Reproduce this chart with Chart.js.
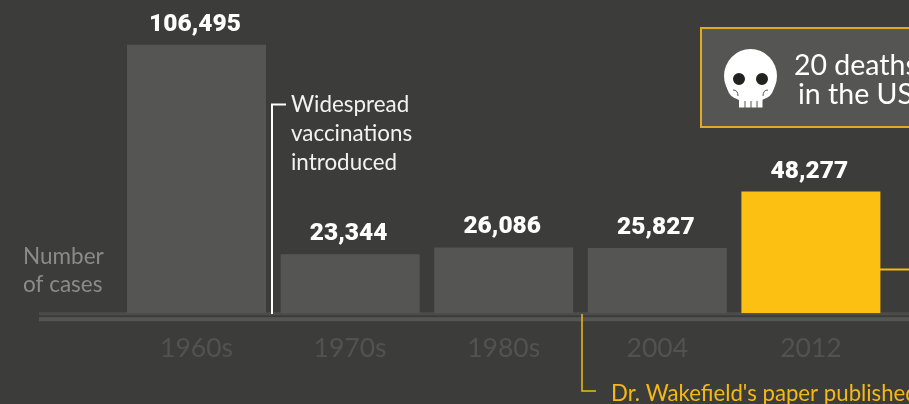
<!DOCTYPE html>
<html><head><meta charset="utf-8">
<style>html,body{margin:0;padding:0;background:#3c3c3a;overflow:hidden}canvas{display:block}</style>
<script src="https://cdn.jsdelivr.net/npm/chart.js@4"></script></head>
<body><canvas id="c" width="909" height="404"></canvas>
<script>
const categories = ["1960s","1970s","1980s","2004","2012"];
const cases = [106495,23344,26086,25827,48277];
const caseLabels = ["106,495","23,344","26,086","25,827","48,277"];
const barColors = ["#555553","#555553","#555553","#555553","#fcc012"];
const axisNote = ["Number","of cases"];
const vaccineNote = ["Widespread","vaccinations","introduced"];
const wakefieldNote = "Dr. Wakefield's paper published";
const deathNote = ["20 deaths","in the US"];
const BODY = '"Lato","Open Sans",sans-serif';
const YELLOW = "#f5b915";

const annotate = {
  id:"annotate",
  beforeDatasetsDraw(chart){
    const c = chart.ctx, y0 = chart.scales.y.getPixelForValue(0);
    c.save();
    c.fillStyle="#4c4c4a";
    c.fillRect(39,y0-1,870,3);
    c.fillStyle="#555553";
    c.fillRect(39,y0+4,870,4);
    c.restore();
  },
  afterDatasetsDraw(chart){
    const c = chart.ctx, meta = chart.getDatasetMeta(0);
    c.save();
    c.textBaseline="alphabetic";
    // value labels
    c.font='900 24.5px "Roboto",sans-serif';
    c.fillStyle="#fff"; c.textAlign="center";
    meta.data.forEach((b,i)=>c.fillText(caseLabels[i],b.x-1.5,b.y-14));
    c.textAlign="left";
    // axis note
    c.font='400 22.5px '+BODY; c.fillStyle="#8b8b89";
    c.fillText(axisNote[0],23,264); c.fillText(axisNote[1],23,292);
    // vaccine callout
    c.strokeStyle="#fff"; c.lineWidth=2;
    c.beginPath(); c.moveTo(286,104.5); c.lineTo(272,104.5); c.lineTo(272,314); c.stroke();
    c.fillStyle="#f2f2f0"; c.font='400 22.4px '+BODY;
    vaccineNote.forEach((t,i)=>c.fillText(t,291,112+i*29));
    // Wakefield callout
    c.strokeStyle=YELLOW; c.lineWidth=1.5;
    c.beginPath(); c.moveTo(582,314); c.lineTo(582,391); c.lineTo(596,391); c.stroke();
    c.fillStyle=YELLOW; c.font='400 22.2px '+BODY;
    c.fillText(wakefieldNote,611,401);
    // connector from highlighted bar
    c.lineWidth=2; c.beginPath(); c.moveTo(880,269.5); c.lineTo(909,269.5); c.stroke();
    // deaths box
    c.fillStyle="#555553"; c.fillRect(701,28,220,99);
    c.strokeStyle="#e0ab20"; c.lineWidth=2; c.strokeRect(701,28,220,99);
    // skull
    c.fillStyle="#fff";
    c.beginPath(); c.ellipse(750.5,76,26.5,27,0,0,Math.PI*2); c.fill();
    c.fillRect(739,94,23.5,13.5);
    c.beginPath(); c.moveTo(727,88); c.quadraticCurveTo(730,99,739,99); c.lineTo(762,99); c.quadraticCurveTo(771,99,774,88); c.closePath(); c.fill();
    c.fillStyle="#222220";
    c.beginPath(); c.arc(739,79,6,0,Math.PI*2); c.arc(762,79,6,0,Math.PI*2); c.fill();
    c.strokeStyle="#555553"; c.lineWidth=1;
    [[733,90,738,96],[768,90,763,96]].forEach(s=>{c.beginPath();c.moveTo(s[0],s[1]);c.quadraticCurveTo(s[2],s[1],s[2],s[3]);c.stroke();});
    [745,751,757].forEach(x=>{c.beginPath();c.moveTo(x,101);c.lineTo(x,108);c.stroke();});
    // box text
    c.fillStyle="#fff"; c.font='400 28.5px '+BODY;
    c.fillText(deathNote[0],794,75); c.fillText(deathNote[1],798,104);
    c.restore();
  }
};

new Chart(document.getElementById("c"),{
  type:"bar",
  data:{labels:categories,datasets:[{data:cases,backgroundColor:barColors,borderWidth:0,barPercentage:0.905,categoryPercentage:1}]},
  plugins:[annotate],
  options:{
    responsive:false,animation:false,events:[],
    layout:{padding:{left:119.7,right:21.3,top:12,bottom:29}},
    plugins:{legend:{display:false},tooltip:{enabled:false},title:{display:false}},
    scales:{
      x:{grid:{display:false},border:{display:false},
         ticks:{color:"#525250",font:{family:BODY,size:26.5,weight:"400"},padding:11,maxRotation:0,autoSkip:false}},
      y:{display:false,min:0,max:119500}
    }
  }
});
</script></body></html>
